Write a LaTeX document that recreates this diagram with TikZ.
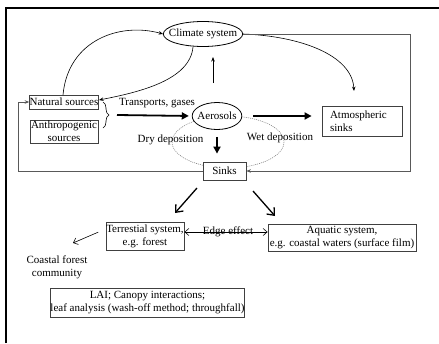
\documentclass[tikz,border=0pt]{standalone}
\usepackage{fontspec}
\setmainfont{Liberation Serif}
\usetikzlibrary{arrows.meta,decorations.pathreplacing,shapes.geometric,calc}
\begin{document}
\begin{tikzpicture}[x=1pt,y=-1pt,
  font=\fontsize{11}{13}\selectfont,
  box/.style={draw=black!75, line width=0.8pt, fill=white, inner sep=0pt, align=center},
  oval/.style={ellipse, draw, line width=0.8pt, fill=white, inner ysep=0pt},
  thinarr/.style={line width=0.6pt, -{Stealth[length=4.5pt,width=3.5pt]}},
  thickarr/.style={line width=1.8pt, -{Triangle[length=7pt,width=7pt]}},
  bigarr/.style={line width=1.3pt, -{Straight Barb[length=6pt,width=10pt]}},
  openarr/.style={line width=0.6pt, -{Straight Barb[length=4pt,width=7pt]}},
  loopline/.style={draw=black!65, line width=0.9pt},
  lbl/.style={inner sep=0pt}]
\useasboundingbox (0,0) rectangle (439,343);
% frame (top and left edges)
\draw[line width=2.5pt] (6,343) -- (6,8) -- (439,8);

% dotted deposition ellipse
\draw[black!55, line width=0.5pt, dash pattern=on 1pt off 1pt] (228,142) ellipse [x radius=56, y radius=26];

% nodes
\node[oval, inner xsep=-6pt, minimum height=25pt] (climate) at (203,34) {Climate system};
\node[oval, inner xsep=-2pt, minimum height=27pt] (aerosols) at (217,116) {Aerosols};
\node[box, minimum width=68pt, minimum height=14pt] (natural) at (64,102) {Natural sources};
\node[box, minimum width=68pt, minimum height=23pt] (anthro) at (64,131.5) {Anthropogenic\\sources};
\node[box, minimum height=30pt, text width=64pt, inner xsep=8pt, align=left] (atm) at (362,121) {Atmospheric\\sinks};
\node[box, minimum width=43pt, minimum height=18pt] (sinks) at (224.5,171) {Sinks};
\node[box, minimum width=78pt, minimum height=28pt] (terr) at (145,236) {Terrestial system,\\e.g. forest};
\node[box, minimum width=148pt, minimum height=27pt] (aqua) at (342,237.5) {Aquatic system,\\e.g. coastal waters (surface film)};
\node[box, minimum width=191pt, minimum height=29pt] (lai) at (147.5,302.5) {LAI; Canopy interactions;\\leaf analysis (wash-off method; throughfall)};

% labels
\node[lbl] (ltrans) at (157,103) {Transports, gases};
\node[lbl] (ldry) at (170.5,140) {Dry deposition};
\node[lbl] (lwet) at (280,138) {Wet deposition};
\node[lbl] (ledge) at (228,232) {Edge effect};
\node[lbl, align=center] (coastal) at (57,267) {Coastal forest\\community};

% brace
\coordinate (bt) at (103,102);
\coordinate (bb) at (103,128);
\coordinate (btip) at (117,115);
\draw[line width=0.6pt, decorate, decoration={brace, amplitude=6pt}] (bt) -- (bb);

% thick arrows
\draw[thickarr, shorten >=3pt] (btip) -- (aerosols.west);
\draw[thickarr, shorten <=11pt, shorten >=10pt] (aerosols.east) -- (aerosols.east -| atm.west);
\draw[thickarr, shorten <=7pt, shorten >=8pt] (aerosols.south) -- (aerosols.south |- sinks.north);

% thin up arrow
\coordinate (u1) at (213,83);
\coordinate (u2) at (213,57);
\draw[thinarr] (u1) -- (u2);

% curves around climate system
\coordinate (nstart) at (63,95);
\coordinate (cin) at (163,34);
\draw[thinarr] (nstart) .. controls (68,40) and (120,22) .. (cin);
\coordinate (cs) at (193,47);
\coordinate (nin) at (99,100);
\draw[thinarr] (cs) .. controls (190,80) and (140,92) .. (nin);
\coordinate (cout) at (243,34);
\coordinate (atop) at (354,91);
\draw[thinarr] (cout) .. controls (300,36) and (352,55) .. (atop);

% feedback loops
\coordinate (r1) at (410,34);
\coordinate (r2) at (410,171);
\draw[loopline, thinarr] (cout) -- (r1) -- (r2) -- (sinks.east);
\coordinate (l1) at (18,171);
\coordinate (l2) at (18,102);
\draw[loopline, thinarr] (sinks.west) -- (l1) -- (l2) -- (natural.west);

% sinks to systems
\coordinate (s1) at (197,188);
\coordinate (s2) at (175,213);
\draw[bigarr] (s1) -- (s2);
\coordinate (s3) at (253,191);
\coordinate (s4) at (275,216);
\draw[bigarr] (s3) -- (s4);

% edge effect
\draw[line width=0.6pt, {Straight Barb[length=4pt,width=7pt]}-{Straight Barb[length=4pt,width=7pt]}]
  ([yshift=4pt]terr.east) -- ([yshift=4pt]terr.east -| aqua.west);

% to coastal forest community
\coordinate (cf) at (73,243);
\draw[openarr, shorten <=8pt] ([yshift=7pt]terr.west) -- (cf);
\end{tikzpicture}
\end{document}
